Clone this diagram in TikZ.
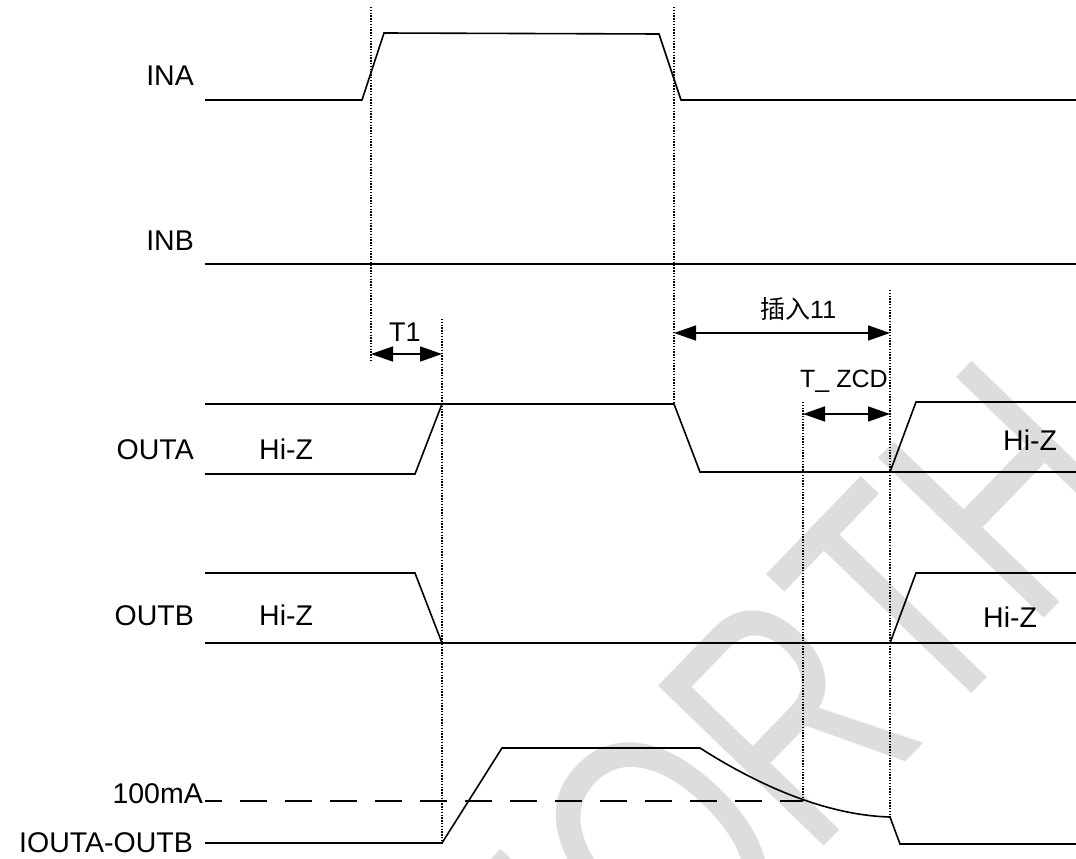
\documentclass[tikz,border=0pt]{standalone}
\usepackage{fontspec}
\setmainfont{Liberation Sans}
\newfontfamily\cjkfont{Noto Sans CJK SC}
\usetikzlibrary{arrows.meta}
\definecolor{wmark}{RGB}{221,221,221}

\begin{document}
\begin{tikzpicture}[x=1pt, y=-1pt,
    sig/.style={line width=1.6pt},
    guide/.style={line width=1.2pt, dash pattern=on 1.4pt off 1.4pt},
    thr/.style={line width=1.6pt, dash pattern=on 27pt off 18pt, dash phase=10pt},
    dim/.style={{Triangle[length=22pt,width=15pt]}-{Triangle[length=22pt,width=15pt]}, line width=1.6pt},
    lbl/.style={font=\fontsize{28.5}{30}\selectfont, inner sep=0pt, anchor=base west},
    tim/.style={font=\fontsize{25}{27}\selectfont, inner sep=0pt, anchor=base west}
  ]
  \useasboundingbox (0,0) rectangle (1076,859);

  % ================= WATERMARK =================
  \begin{scope}
    \clip (0,0) rectangle (1076,859);
    \node[font=\fontsize{335}{335}\selectfont, text=wmark, inner sep=0pt,
          anchor=base west, rotate=46, xscale=0.72] (wm) at (559,1121) {NORTH};
  \end{scope}

  % ================= SIGNAL NAMES =================
  \node[lbl, anchor=base east] (ina)  at (194,85)  {INA};
  \node[lbl, anchor=base east] (inb)  at (194,250) {INB};
  \node[lbl, anchor=base east] (outa) at (194,459) {OUTA};
  \node[lbl, anchor=base east] (outb) at (194,625) {OUTB};
  \node[lbl, anchor=base east] (ilim) at (203,803) {100mA};
  \node[lbl, anchor=base east] (iout) at (193,852) {IOUTA-OUTB};

  % ================= INPUTS =================
  \draw[sig] (205,100) -- (362,100) -- (384,33) -- (659,34) -- (681,100) -- (1076,100);
  \draw[sig] (205,264) -- (1076,264);

  % ================= OUTA =================
  \draw[sig] (205,404) -- (674,404) -- (700,472) -- (1076,472);
  \draw[sig] (205,474) -- (415,474) -- (442,404);
  \draw[sig] (890,472) -- (916,402) -- (1076,402);
  \node[lbl] (hza1) at (259,459) {Hi-Z};
  \node[lbl] (hza2) at (1003,450) {Hi-Z};

  % ================= OUTB =================
  \draw[sig] (205,573) -- (415,573) -- (442,643);
  \draw[sig] (205,643) -- (1076,643);
  \draw[sig] (890,643) -- (916,573) -- (1076,573);
  \node[lbl] (hzb1) at (259,625) {Hi-Z};
  \node[lbl] (hzb2) at (983,627) {Hi-Z};

  % ================= CURRENT =================
  \draw[thr] (205,801) -- (803,801);
  \draw[sig] (205,843) -- (442,843) -- (502,748) -- (700,748)
    .. controls (750,780) and (820,815) .. (890,817) -- (900,844) -- (1076,844);

  % ================= GUIDES =================
  \draw[guide] (371,7) -- (371,362);
  \draw[guide] (674,7) -- (674,404);
  \draw[guide] (442,319) -- (442,843);
  \draw[guide] (803,402) -- (803,801);
  \draw[guide] (890,290) -- (890,817);

  % timing marks
  \draw[dim] (371,354) -- (442,354);
  \node[tim, font=\fontsize{27}{29}\selectfont] (t1) at (389,341) {T1};
  \draw[dim] (674,333) -- (890,333);
  \node[tim] (tins) at (760,318) {{\cjkfont 插入}11};
  \draw[dim] (803,414) -- (890,414);
  \node[tim] (tzcd) at (800,387) {T\_ ZCD};

\end{tikzpicture}
\end{document}
